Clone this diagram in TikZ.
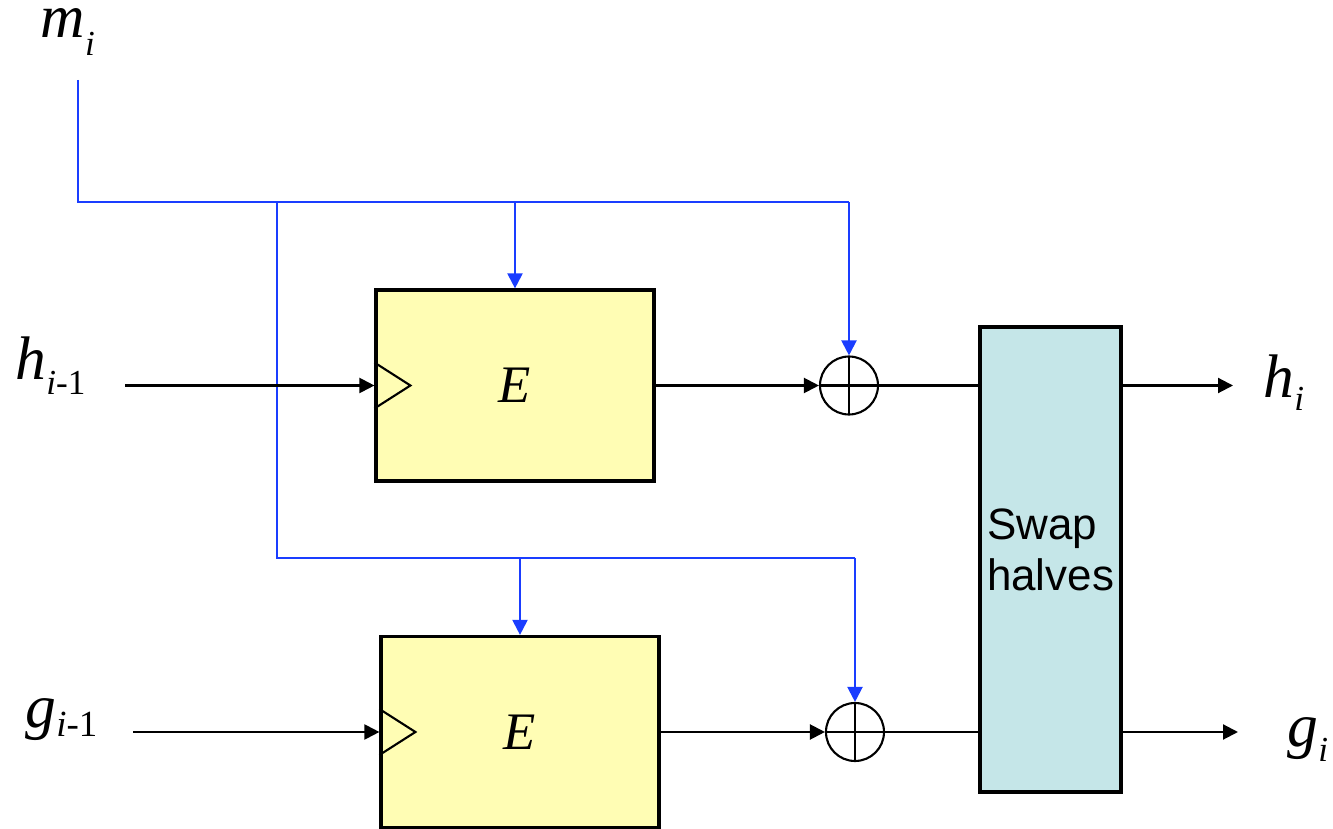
\documentclass[tikz,border=0pt]{standalone}
\usepackage{fontspec}
\usepackage{tikz}
\usetikzlibrary{arrows.meta,calc,positioning}
\newfontfamily\labelfont{Liberation Serif}
\newfontfamily\boxfont{Liberation Sans}
\definecolor{Wire}{HTML}{1A3DFF}
\definecolor{Pale}{HTML}{FFFDB4}
\definecolor{Teal}{HTML}{C5E6E8}
% letter, italic subscript, upright tail, subscript size, drop
\newcommand{\sig}[5]{%
  {\labelfont\fontsize{17.5}{20}\selectfont\itshape #1}%
  \raisebox{-#5}{\labelfont\fontsize{#4}{#4}\selectfont\itshape #2\upshape #3}}
\tikzset{
  cipher/.style={draw=black,line width=0.9pt,fill=Pale,minimum width=2.78cm,
    minimum height=1.91cm,inner sep=0pt,font=\labelfont\itshape\fontsize{15}{16}\selectfont},
  xorgate/.style={draw=black,line width=0.6pt,circle,minimum size=0.58cm,inner sep=0pt,
    path picture={\draw[line width=0.6pt]
      (path picture bounding box.north) -- (path picture bounding box.south)
      (path picture bounding box.west) -- (path picture bounding box.east);}},
  swapbox/.style={draw=black,line width=1pt,fill=Teal,minimum width=1.41cm,
    minimum height=4.65cm,inner sep=0pt},
  sigtext/.style={anchor=base west,inner sep=0pt},
  key/.style={Wire,line width=0.6pt},
  keyarrow/.style={key,-{Triangle[length=1.5mm,width=1.5mm]}},
  data/.style={black,line width=0.6pt},
  dataarrow/.style={data,-{Triangle[length=1.5mm,width=1.5mm]}}
}
\begin{document}
\begin{tikzpicture}[x=1cm,y=-1cm]
  \useasboundingbox (0,0) rectangle (13.33,8.29);
  % blocks
  \node[cipher] (e1) at (5.15,3.855) {E};
  \node[cipher] (e2) at (5.20,7.32) {E};
  \node[xorgate] (xor1) at (8.49,3.855) {};
  \node[xorgate] (xor2) at (8.55,7.32) {};
  \node[swapbox,label={[align=left,yshift=0.1cm,font=\boxfont\fontsize{12.5}{14.5}\selectfont]center:Swap\\halves}] (swap) at (10.505,5.595) {};
  % clock marks
  \draw[line width=0.6pt] ($(e1.west)+(0,-0.23)$) -- ++(0.36,0.23) -- ++(-0.36,0.23);
  \draw[line width=0.6pt] ($(e2.west)+(0,-0.23)$) -- ++(0.36,0.23) -- ++(-0.36,0.23);
  % labels
  \node[sigtext] (mi) at (0.40,0.38) {\sig{m}{i}{}{10pt}{5pt}};
  \node[sigtext] (hprev) at (0.15,3.80) {\sig{h}{i}{-1}{10pt}{4pt}};
  \node[sigtext] (gprev) at (0.25,7.28) {\sig{g}{i}{-1}{10.5pt}{2.5pt}};
  \node[sigtext] (hnext) at (12.63,3.98) {\sig{h}{i}{}{10pt}{3.7pt}};
  \node[sigtext] (gnext) at (12.87,7.47) {\sig{g}{i}{}{10pt}{4pt}};
  % key wiring
  \coordinate (tap) at (0.78,0.80);
  \coordinate (k1) at (0.78,2.02);
  \coordinate (k1r) at (xor1 |- k1);
  \coordinate (b1) at (e1 |- k1);
  \coordinate (k2) at (2.77,2.02);
  \coordinate (k2d) at (2.77,5.58);
  \coordinate (k2r) at (xor2 |- k2d);
  \coordinate (b2) at (e2 |- k2d);
  \draw[key] (tap) -- (k1) -- (k1r);
  \draw[keyarrow] (k1r) -- (xor1);
  \draw[keyarrow] (b1) -- (e1);
  \draw[key] (k2) -- (k2d) -- (k2r);
  \draw[keyarrow] (k2r) -- (xor2);
  \draw[keyarrow] (b2) -- (e2);
  % data path
  \coordinate (hin) at (1.25,3.855);
  \coordinate (gin) at (1.33,7.32);
  \coordinate (hout) at (12.33,3.855);
  \coordinate (gout) at (12.38,7.32);
  \draw[dataarrow] (hin) -- (e1.west);
  \draw[dataarrow] (gin) -- (e2.west);
  \draw[dataarrow] (e1) -- (xor1);
  \draw[dataarrow] (e2) -- (xor2);
  \draw[data] (xor1) -- (swap.west |- xor1);
  \draw[data] (xor2) -- (swap.west |- xor2);
  \draw[dataarrow] (swap.east |- hout) -- (hout);
  \draw[dataarrow] (swap.east |- gout) -- (gout);
\end{tikzpicture}
\end{document}
